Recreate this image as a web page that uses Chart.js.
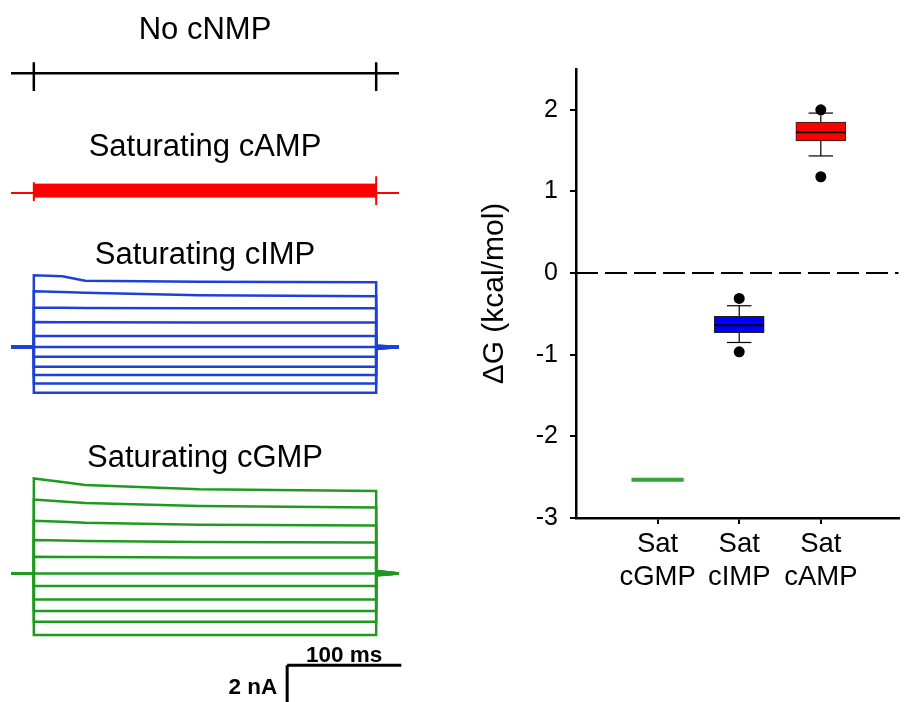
<!DOCTYPE html>
<html>
<head>
<meta charset="utf-8">
<script src="https://cdn.jsdelivr.net/npm/chart.js@4.4.1/dist/chart.umd.min.js"></script>
<style>
body{margin:0;background:#fff;width:904px;height:702px;position:relative;overflow:hidden}
canvas{position:absolute}
</style>
</head>
<body>
<canvas id="pNone" width="420" height="110" style="left:0;top:0"></canvas>
<canvas id="pCamp" width="420" height="100" style="left:0;top:110px"></canvas>
<canvas id="pCimp" width="420" height="200" style="left:0;top:210px"></canvas>
<canvas id="pCgmp" width="420" height="292" style="left:0;top:410px"></canvas>
<canvas id="dgChart" width="434" height="702" style="left:470px;top:0"></canvas>
<script>
var FONT = "'Liberation Sans', Arial, Helvetica, sans-serif";

// ---- current recordings (time in ms, current in nA) ----
var tStart = -20, tOn = 0, tOff = 300, tEnd = 320;
var stepTimes = [0, 25, 45, 145, 300];

// no cNMP: flat trace, only capacitive spikes at step on/off
var noneSpikeOn = [0.55, -0.9];
var noneSpikeOff = [0.55, -0.9];

// saturating cAMP: noisy band around zero
var campBand = [0.45, -0.2];
var campSpikeOn = [0.55, -0.4];
var campSpikeOff = [0.85, -0.6];

// saturating cIMP, one row per voltage step, values at stepTimes
var cimpCurrents = [
  [3.6, 3.55, 3.32, 3.27, 3.25],
  [2.8, 2.76, 2.72, 2.6, 2.55],
  [1.97, 1.97, 1.96, 1.95, 1.95],
  [1.25, 1.24, 1.24, 1.23, 1.23],
  [0.55, 0.55, 0.55, 0.55, 0.55],
  [0, 0, 0, 0, 0],
  [-0.48, -0.48, -0.48, -0.48, -0.48],
  [-0.98, -0.98, -0.98, -0.98, -0.98],
  [-1.4, -1.4, -1.4, -1.4, -1.4],
  [-1.82, -1.82, -1.82, -1.82, -1.82],
  [-2.28, -2.28, -2.28, -2.28, -2.28]
];
var cimpTails = [0.08, 0.07, 0.06, 0.04, 0.02, 0, -0.03, -0.05, -0.07, -0.09, -0.1];

// saturating cGMP
var cgmpCurrents = [
  [4.75, 4.58, 4.42, 4.21, 4.13],
  [3.7, 3.6, 3.52, 3.37, 3.3],
  [2.63, 2.58, 2.53, 2.44, 2.4],
  [1.67, 1.65, 1.62, 1.57, 1.55],
  [0.83, 0.82, 0.82, 0.8, 0.8],
  [0, 0, 0, 0, 0],
  [-0.63, -0.63, -0.63, -0.63, -0.63],
  [-1.3, -1.3, -1.3, -1.3, -1.3],
  [-1.88, -1.88, -1.88, -1.88, -1.88],
  [-2.42, -2.42, -2.42, -2.42, -2.42],
  [-3.08, -3.08, -3.08, -3.08, -3.08]
];
var cgmpTails = [0.13, 0.12, 0.1, 0.08, 0.05, 0, -0.03, -0.05, -0.07, -0.09, -0.1];

// scale bar
var scaleBarT = [222, 322];
var scaleBarLevel = -4.6;
var scaleBarCurrent = 2;
var scaleBarTimeLabel = '100 ms';
var scaleBarCurrentLabel = '2 nA';

// ---- free energy plot ----
var groups = ['Sat cGMP', 'Sat cIMP', 'Sat cAMP'];
var dgQ1 = [null, -0.73, 1.62];
var dgMedian = [-2.53, -0.64, 1.725];
var dgQ3 = [null, -0.53, 1.85];
var dgWhiskLo = [null, -0.85, 1.435];
var dgWhiskHi = [null, -0.40, 1.96];
var dgOutliers = [[], [-0.31, -0.965], [2.00, 1.18]];
var dgColors = ['#36a336', '#0000ff', '#ff0000'];
var dgTicks = [-3, -2, -1, 0, 1, 2];

Chart.defaults.font.family = FONT;
Chart.defaults.color = '#000';
Chart.defaults.animation = false;
Chart.defaults.responsive = false;
Chart.defaults.devicePixelRatio = 1;
Chart.defaults.plugins.legend.display = false;
Chart.defaults.plugins.tooltip.enabled = false;

function seg(points, color, width, extra) {
  return Object.assign({type: 'line', data: points, borderColor: color, borderWidth: width,
    pointRadius: 0, fill: false, clip: false, tension: 0}, extra || {});
}

function stepTrace(currents, tail) {
  var pts = [{x: tStart, y: 0}, {x: tOn, y: 0}];
  for (var i = 0; i < stepTimes.length; i++) pts.push({x: stepTimes[i], y: currents[i]});
  pts.push({x: tOff, y: tail}, {x: tEnd, y: 0});
  return pts;
}

function spikeTrace(on, off) {
  return [{x: tStart, y: 0}, {x: tOn, y: 0}, {x: tOn, y: on[0]}, {x: tOn, y: on[1]}, {x: tOn, y: 0},
    {x: tOff, y: 0}, {x: tOff, y: off[0]}, {x: tOff, y: off[1]}, {x: tOff, y: 0}, {x: tEnd, y: 0}];
}

function tracePanel(id, title, padTop, yMin, yMax, datasets, plugins) {
  return new Chart(document.getElementById(id), {
    type: 'line',
    data: {datasets: datasets},
    options: {
      layout: {padding: {left: 11, right: 21, top: 0, bottom: 0}},
      scales: {
        x: {type: 'linear', display: false, min: tStart, max: tEnd},
        y: {type: 'linear', display: false, min: yMin, max: yMax}
      },
      plugins: {
        title: {display: true, text: title, color: '#000',
          font: {size: 31, weight: 'normal', lineHeight: 1.2}, padding: {top: padTop, bottom: 2}}
      }
    },
    plugins: plugins || []
  });
}

tracePanel('pNone', 'No cNMP', 12, -1.85, 1.1,
  [seg(spikeTrace(noneSpikeOn, noneSpikeOff), '#000', 2.5)]);

tracePanel('pCamp', 'Saturating cAMP', 19, -0.85, 1.25, [
  seg([{x: tOn, y: campBand[0]}, {x: tOff, y: campBand[0]}], '#ff0000', 1, {fill: '+1', backgroundColor: '#ff0000'}),
  seg([{x: tOn, y: campBand[1]}, {x: tOff, y: campBand[1]}], '#ff0000', 1),
  seg(spikeTrace(campSpikeOn, campSpikeOff), '#ff0000', 2)
]);

tracePanel('pCimp', 'Saturating cIMP', 27, -3.15, 3.55,
  cimpCurrents.map(function(c, i) { return seg(stepTrace(c, cimpTails[i]), '#1e40d7', 2.5); }));

var scaleBarText = {
  id: 'scaleBarText',
  afterDraw: function(chart) {
    var ctx = chart.ctx, xs = chart.scales.x, ys = chart.scales.y;
    var yPix = ys.getPixelForValue(scaleBarLevel);
    ctx.save();
    ctx.fillStyle = '#000';
    ctx.font = 'bold 22.5px ' + FONT;
    ctx.textBaseline = 'alphabetic';
    ctx.textAlign = 'center';
    ctx.fillText(scaleBarTimeLabel, xs.getPixelForValue((scaleBarT[0] + scaleBarT[1]) / 2), yPix - 3);
    ctx.textAlign = 'right';
    ctx.fillText(scaleBarCurrentLabel, xs.getPixelForValue(scaleBarT[0]) - 10, yPix + 29);
    ctx.restore();
  }
};

var cgmpSets = cgmpCurrents.map(function(c, i) { return seg(stepTrace(c, cgmpTails[i]), '#1f9a1f', 2.5); });
cgmpSets.push(seg([{x: scaleBarT[0], y: scaleBarLevel}, {x: scaleBarT[1], y: scaleBarLevel}], '#000', 3));
cgmpSets.push(seg([{x: scaleBarT[0], y: scaleBarLevel}, {x: scaleBarT[0], y: scaleBarLevel - scaleBarCurrent}], '#000', 3));
tracePanel('pCgmp', 'Saturating cGMP', 30, -6.435, 4.715, cgmpSets, [scaleBarText]);

// ---- box plot ----
var boxHalf = 0.301, capHalf = 0.15, singleHalf = 0.32;
var xMax = 3.952;
var dgSets = [];
var boxes = [], boxColors = [];
for (var i = 0; i < groups.length; i++) {
  var gx = i + 1;
  if (dgQ1[i] === null) {
    dgSets.push(seg([{x: gx - singleHalf, y: dgMedian[i]}, {x: gx + singleHalf, y: dgMedian[i]}], dgColors[i], 4, {borderCapStyle: 'butt'}));
    continue;
  }
  dgSets.push(seg([{x: gx - boxHalf, y: dgMedian[i]}, {x: gx + boxHalf, y: dgMedian[i]}], '#000', 2));
  dgSets.push(seg([{x: gx, y: dgQ3[i]}, {x: gx, y: dgWhiskHi[i]}], '#000', 1.2));
  dgSets.push(seg([{x: gx, y: dgQ1[i]}, {x: gx, y: dgWhiskLo[i]}], '#000', 1.2));
  dgSets.push(seg([{x: gx - capHalf, y: dgWhiskHi[i]}, {x: gx + capHalf, y: dgWhiskHi[i]}], '#000', 1.2));
  dgSets.push(seg([{x: gx - capHalf, y: dgWhiskLo[i]}, {x: gx + capHalf, y: dgWhiskLo[i]}], '#000', 1.2));
  dgSets.push({type: 'scatter', data: dgOutliers[i].map(function(v) { return {x: gx, y: v}; }),
    pointRadius: 5.5, pointBackgroundColor: '#000', pointBorderWidth: 0, clip: false});
  boxes.push({x: gx, y: [dgQ1[i], dgQ3[i]]});
  boxColors.push(dgColors[i]);
}
dgSets.push({type: 'bar', data: boxes, backgroundColor: boxColors, borderColor: '#222',
  borderWidth: 1, borderSkipped: false, barThickness: 50});
dgSets.push(seg([{x: 0, y: 0}, {x: xMax, y: 0}], '#000', 2, {borderDash: [22, 7]}));

var axisGrid = {display: true, drawOnChartArea: false, drawTicks: true, tickLength: 6,
  color: '#000', lineWidth: 2, offset: false};

new Chart(document.getElementById('dgChart'), {
  type: 'scatter',
  data: {datasets: dgSets},
  options: {
    layout: {padding: {left: 0, top: 69, right: 0, bottom: 0}},
    scales: {
      x: {
        type: 'linear', min: 0, max: xMax, offset: false,
        grid: axisGrid,
        border: {display: true, color: '#000', width: 2.5},
        ticks: {font: {size: 27.5, lineHeight: 1.2}, color: '#000', padding: 4, maxRotation: 0, autoSkip: false,
          callback: function(v) { return groups[v - 1] ? groups[v - 1].split(' ') : ''; }},
        afterBuildTicks: function(s) { s.ticks = groups.map(function(g, i) { return {value: i + 1}; }); },
        afterFit: function(s) { s.height = 184; s.paddingLeft = 0; s.paddingRight = 0; }
      },
      y: {
        type: 'linear', min: -3, max: 2.5,
        grid: axisGrid,
        border: {display: true, color: '#000', width: 2.5},
        ticks: {font: {size: 25}, color: '#000', padding: 12,
          callback: function(v) { return String(v); }},
        title: {display: true, text: 'ΔG (kcal/mol)', color: '#000', font: {size: 30, lineHeight: 1.2}, padding: {top: 7, bottom: 0}},
        afterBuildTicks: function(s) { s.ticks = dgTicks.map(function(v) { return {value: v}; }); },
        afterFit: function(s) { s.width = 106; s.paddingTop = 0; s.paddingBottom = 0; }
      }
    }
  }
});
</script>
</body>
</html>
